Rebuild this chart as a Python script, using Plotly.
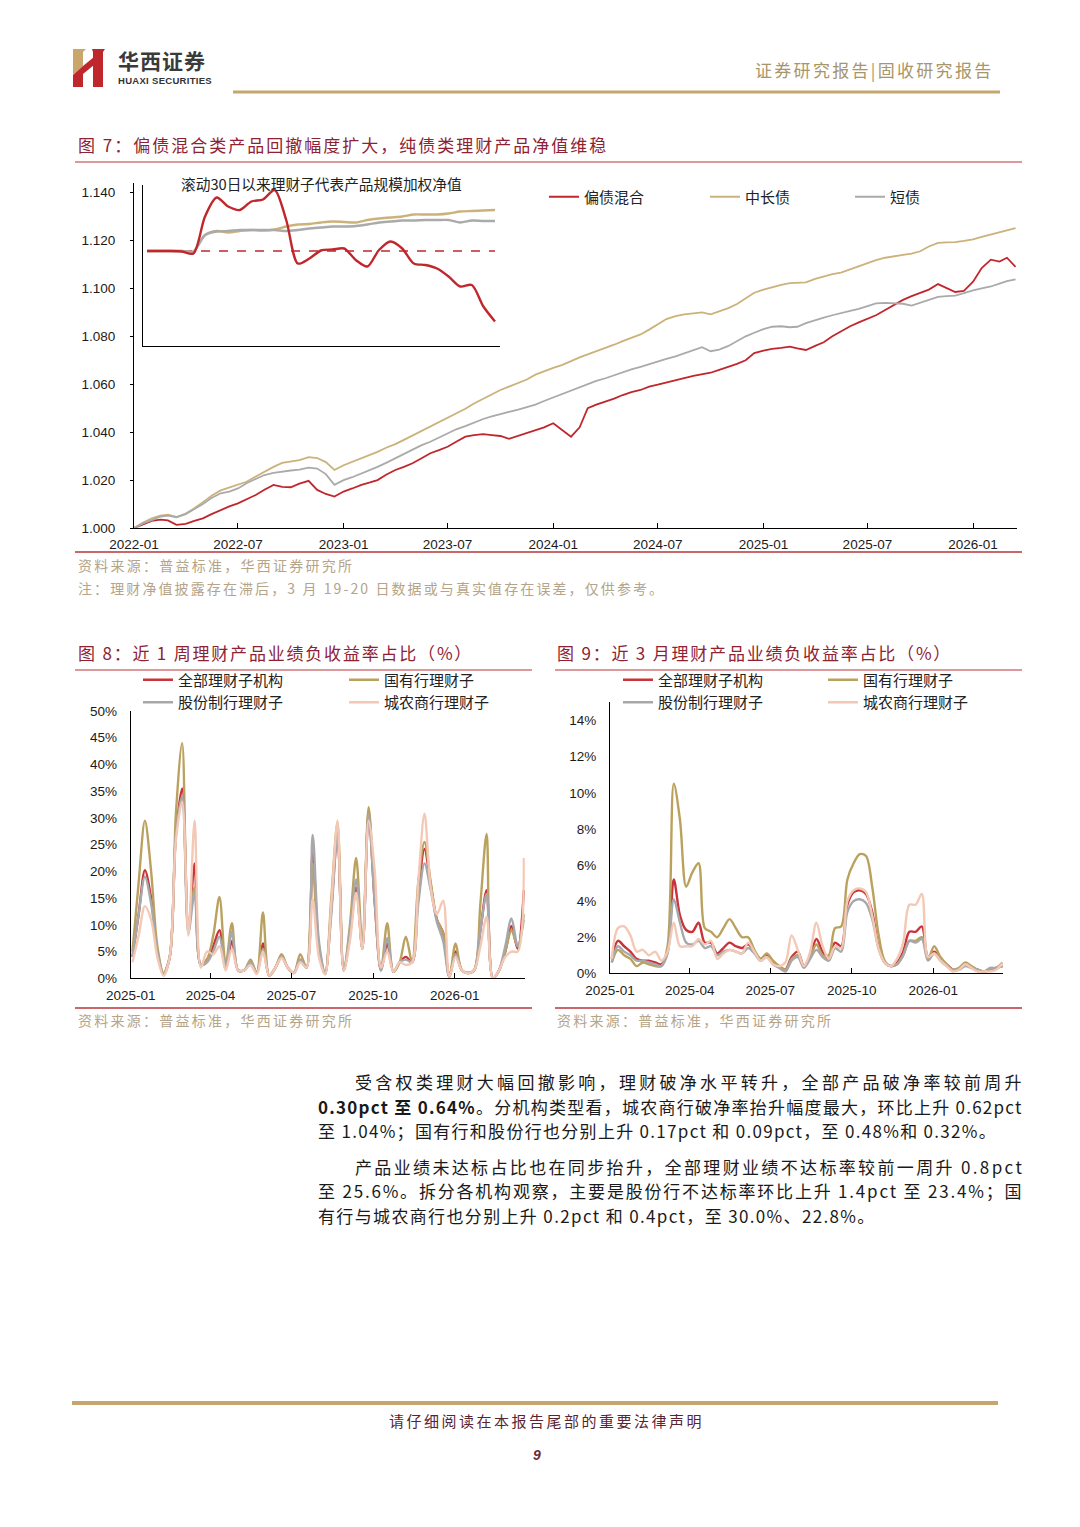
import plotly.graph_objects as go
import pandas as pd

W, H = 1080, 1527
CJK = "Noto Sans CJK SC"
LAT = "Liberation Sans, Arial, Noto Sans CJK SC"

# ---------------- Figure 7 : NAV series (semi-monthly readings) ----------------
nav_dates = []
for k in range(51):
    yy = 2022 + k // 12
    mm = k % 12 + 1
    nav_dates.append(f"{yy}-{mm:02d}-01")
    nav_dates.append(f"{yy}-{mm:02d}-16")

nav_mixed = [  # 偏债混合
    1.0000, 1.0015, 1.0030, 1.0035, 1.0032, 1.0013, 1.0017, 1.0030, 1.0040, 1.0058, 1.0075, 1.0090,
    1.0103, 1.0120, 1.0138, 1.0160, 1.0180, 1.0172, 1.0170, 1.0185, 1.0197, 1.0159, 1.0142, 1.0131,
    1.0152, 1.0165, 1.0180, 1.0190, 1.0200, 1.0222, 1.0242, 1.0255, 1.0270, 1.0290, 1.0312, 1.0325,
    1.0339, 1.0360, 1.0381, 1.0388, 1.0392, 1.0388, 1.0384, 1.0372, 1.0384, 1.0396, 1.0406, 1.0420,
    1.0437, 1.0410, 1.0381, 1.0420, 1.0500, 1.0515, 1.0527, 1.0540, 1.0555, 1.0567, 1.0576, 1.0590,
    1.0598, 1.0608, 1.0618, 1.0626, 1.0635, 1.0642, 1.0648, 1.0660, 1.0672, 1.0685, 1.0700, 1.0730,
    1.0740, 1.0748, 1.0752, 1.0757, 1.0750, 1.0743, 1.0760, 1.0775, 1.0800, 1.0822, 1.0842, 1.0858,
    1.0872, 1.0888, 1.0910, 1.0930, 1.0952, 1.0968, 1.0982, 1.0995, 1.1018, 1.1000, 1.0985, 1.0990,
    1.1028, 1.1085, 1.1120, 1.1112, 1.1128, 1.1090,
]
nav_long = [  # 中长债
    1.0000, 1.0022, 1.0040, 1.0052, 1.0056, 1.0046, 1.0060, 1.0082, 1.0108, 1.0135, 1.0157, 1.0168,
    1.0180, 1.0193, 1.0215, 1.0236, 1.0255, 1.0272, 1.0277, 1.0283, 1.0296, 1.0292, 1.0275, 1.0242,
    1.0262, 1.0276, 1.0292, 1.0305, 1.0318, 1.0335, 1.0350, 1.0368, 1.0386, 1.0405, 1.0423, 1.0442,
    1.0460, 1.0480, 1.0498, 1.0520, 1.0540, 1.0560, 1.0576, 1.0590, 1.0605, 1.0620, 1.0640, 1.0655,
    1.0668, 1.0680, 1.0698, 1.0712, 1.0725, 1.0738, 1.0750, 1.0765, 1.0780, 1.0795, 1.0808, 1.0828,
    1.0850, 1.0872, 1.0884, 1.0892, 1.0896, 1.0900, 1.0892, 1.0905, 1.0918, 1.0935, 1.0960, 1.0982,
    1.0995, 1.1005, 1.1015, 1.1022, 1.1022, 1.1025, 1.1040, 1.1050, 1.1060, 1.1066, 1.1080, 1.1095,
    1.1108, 1.1118, 1.1128, 1.1135, 1.1140, 1.1145, 1.1155, 1.1175, 1.1190, 1.1192, 1.1193, 1.1198,
    1.1205, 1.1215, 1.1225, 1.1235, 1.1245, 1.1252,
]
nav_short = [  # 短债
    1.0000, 1.0018, 1.0033, 1.0048, 1.0052, 1.0045, 1.0058, 1.0078, 1.0100, 1.0125, 1.0145, 1.0152,
    1.0165, 1.0187, 1.0204, 1.0221, 1.0230, 1.0236, 1.0240, 1.0244, 1.0252, 1.0248, 1.0225, 1.0180,
    1.0200, 1.0212, 1.0228, 1.0240, 1.0255, 1.0272, 1.0292, 1.0310, 1.0328, 1.0345, 1.0360, 1.0377,
    1.0395, 1.0412, 1.0425, 1.0440, 1.0455, 1.0466, 1.0474, 1.0485, 1.0494, 1.0503, 1.0515, 1.0530,
    1.0545, 1.0560, 1.0574, 1.0588, 1.0602, 1.0614, 1.0625, 1.0638, 1.0650, 1.0662, 1.0673, 1.0685,
    1.0695, 1.0706, 1.0716, 1.0728, 1.0742, 1.0755, 1.0738, 1.0745, 1.0760, 1.0780, 1.0800, 1.0815,
    1.0830, 1.0840, 1.0842, 1.0838, 1.0840, 1.0855, 1.0868, 1.0878, 1.0888, 1.0898, 1.0906, 1.0915,
    1.0928, 1.0938, 1.0940, 1.0938, 1.0936, 1.0928, 1.0940, 1.0955, 1.0965, 1.0968, 1.0970, 1.0980,
    1.0992, 1.1000, 1.1008, 1.1020, 1.1030, 1.1038,
]
nav_names = ["偏债混合", "中长债", "短债"]
nav_ticks = ["2022-01", "2022-07", "2023-01", "2023-07", "2024-01",
             "2024-07", "2025-01", "2025-07", "2026-01"]
nav_yticks = [1.000, 1.020, 1.040, 1.060, 1.080, 1.100, 1.120, 1.140]

# inset: rolling 30 days
inset_title = "滚动30日以来理财子代表产品规模加权净值"
inset_day = list(range(31))
inset_base = 1.0000
inset_mixed = [1.0000, 1.0000, 1.0000, 0.9999, 0.9995, 1.0069, 1.0107, 1.0089, 1.0082, 1.0099,
               1.0103, 1.0122, 1.0062, 0.9975, 0.9985, 1.0001, 1.0003, 1.0005, 0.9982, 0.9969,
               1.0002, 1.0019, 1.0005, 0.9975, 0.9972, 0.9965, 0.9949, 0.9929, 0.9932, 0.9889,
               0.9859]
inset_long = [1.0000, 1.0000, 1.0000, 1.0000, 0.9999, 1.0032, 1.0040, 1.0037, 1.0040, 1.0042,
              1.0041, 1.0043, 1.0049, 1.0053, 1.0054, 1.0057, 1.0059, 1.0058, 1.0057, 1.0062,
              1.0065, 1.0067, 1.0069, 1.0073, 1.0073, 1.0073, 1.0075, 1.0079, 1.0080, 1.0081,
              1.0082]
inset_short = [1.0000, 1.0000, 1.0000, 1.0000, 0.9999, 1.0032, 1.0039, 1.0040, 1.0042, 1.0042,
               1.0042, 1.0042, 1.0040, 1.0042, 1.0045, 1.0047, 1.0049, 1.0049, 1.0050, 1.0053,
               1.0057, 1.0059, 1.0061, 1.0061, 1.0062, 1.0062, 1.0062, 1.0057, 1.0061, 1.0060,
               1.0060]

# ---------------- Figure 8 / 9 : weekly shares (%) ----------------
week_start = "2025-01-03"
n_weeks = 64
org_names = ["全部理财子机构", "国有行理财子", "股份制行理财子", "城农商行理财子"]
q_ticks = ["2025-01", "2025-04", "2025-07", "2025-10", "2026-01"]
pct8_ticks = list(range(0, 51, 5))
pct9_ticks = list(range(0, 15, 2))

w1_all = [4, 12, 20.2, 15, 5, 0.8, 4, 27, 35.5, 9,
          21.5, 2.5, 3.5, 6, 9, 2, 7, 1.5, 1.5, 3,
          1, 6.5, 0.5, 2, 4, 2, 1, 3.5, 2, 23.5,
          6, 0.8, 13, 27, 1.5, 8, 17, 5.5, 31, 14,
          1.5, 6.5, 1.2, 3, 4, 3, 16, 24.2, 17.5, 11,
          8.5, 0.3, 5, 1.5, 1, 1.5, 9, 16.5, 0, 1.5,
          5, 9.8, 5.5, 16.5]
w1_state = [5, 18, 29.5, 20, 6, 1, 4, 31, 44, 10,
            17, 2.5, 3.5, 8, 15.2, 2.5, 10.3, 1.5, 1.5, 3.5,
            1, 12.3, 0.5, 2, 4.5, 2, 1, 4.5, 2, 21.5,
            5, 0.8, 15, 29, 1.5, 10, 22.5, 6, 32, 15,
            1.5, 10.3, 1.2, 3, 7.8, 3, 18, 25.5, 18, 11,
            8.5, 0.3, 6.5, 1.5, 1, 1.5, 14, 27, 0, 1.5,
            5, 9, 6, 12]
w1_joint = [4, 12, 19, 14, 5, 0.8, 4, 27, 34, 8.5,
            16, 2.5, 3, 5, 7.8, 1.8, 8.7, 1.5, 1.5, 3,
            0.9, 5.5, 0.5, 2, 4, 2, 1, 3.5, 2, 26.8,
            7, 0.8, 12, 27, 1.5, 9, 18.5, 5.5, 30.5, 14,
            1.5, 7.5, 1.2, 3, 3.5, 3, 14, 21.5, 16.5, 10.5,
            7, 0.3, 4.5, 1.5, 1, 1.5, 9, 15.8, 0, 1.5,
            6, 11.2, 6, 11]
w1_local = [3, 8, 13.5, 11, 4, 0.5, 4, 26, 33, 8,
            29.5, 2, 5, 4.5, 6, 1.5, 5.5, 1.5, 1.5, 2.5,
            0.8, 5, 0.5, 2, 3.8, 2, 1, 3, 2, 14.8,
            4, 0.8, 14, 29.5, 1.5, 7, 16, 5.5, 29.5, 20,
            2, 5, 1.2, 3, 2.5, 3, 18, 30.8, 17, 12,
            14.5, 0.3, 4, 1.5, 1, 1.5, 6, 11.5, 0, 1.5,
            4, 5, 5, 22.5]

m3_all = [0.8, 1.8, 1.5, 1.2, 0.8, 0.7, 0.7, 0.6, 0.5, 1.2,
          5.2, 3.2, 2.4, 2.3, 2.8, 1.7, 1.7, 1.1, 1.4, 1.7,
          1.5, 1.4, 1.6, 1.2, 0.8, 1.0, 0.6, 0.4, 0.2, 0.9,
          1.2, 0.4, 1.0, 1.9, 1.2, 0.8, 1.7, 1.5, 3.8, 4.5,
          4.6, 4.4, 3.4, 1.5, 0.6, 0.4, 0.6, 1.2, 2.3, 2.3,
          2.6, 0.9, 1.2, 0.8, 0.5, 0.2, 0.2, 0.5, 0.3, 0.2,
          0.1, 0.2, 0.3, 0.4]
m3_state = [0.6, 1.3, 1.0, 0.8, 0.4, 0.6, 0.5, 0.4, 0.4, 1.5,
            10.5, 8.5, 4.8, 5.6, 6.1, 2.5, 2.3, 2.0, 2.5, 3.0,
            2.5, 2.0, 2.0, 1.3, 0.8, 1.1, 0.7, 0.4, 0.2, 0.8,
            1.0, 0.4, 0.9, 1.6, 1.0, 1.0, 2.5, 2.6, 5.2, 6.1,
            6.6, 6.5, 4.8, 2.2, 0.7, 0.4, 0.5, 1.0, 1.8, 1.8,
            2.0, 0.8, 1.5, 0.9, 0.5, 0.2, 0.3, 0.6, 0.4, 0.2,
            0.1, 0.2, 0.3, 0.6]
m3_joint = [0.6, 1.5, 1.2, 1.0, 0.7, 0.7, 0.6, 0.5, 0.4, 1.1,
            4.1, 2.8, 1.7, 1.6, 1.8, 1.4, 1.5, 1.0, 1.2, 1.3,
            1.2, 1.1, 1.4, 1.1, 0.7, 0.9, 0.5, 0.3, 0.1, 0.7,
            0.9, 0.3, 0.8, 1.3, 0.9, 0.7, 1.4, 1.2, 3.4, 4.0,
            4.1, 3.9, 3.0, 1.4, 0.6, 0.4, 0.5, 1.0, 1.8, 1.7,
            1.9, 0.7, 1.1, 0.7, 0.4, 0.2, 0.2, 0.4, 0.3, 0.2,
            0.1, 0.3, 0.3, 0.4]
m3_local = [0.8, 2.5, 2.6, 2.1, 1.2, 1.3, 1.0, 1.2, 0.7, 1.2,
            2.8, 1.5, 1.5, 1.5, 1.9, 1.6, 1.8, 0.8, 1.1, 1.3,
            1.2, 1.1, 1.7, 1.2, 0.7, 0.9, 0.5, 0.4, 0.6, 2.1,
            1.3, 0.4, 1.2, 2.8, 1.5, 0.8, 1.5, 1.4, 4.0, 4.6,
            4.7, 4.5, 3.2, 1.4, 0.6, 0.4, 0.8, 1.7, 3.8, 3.8,
            4.4, 0.9, 1.1, 0.7, 0.4, 0.1, 0.2, 0.5, 0.3, 0.1,
            0.1, 0.1, 0.2, 0.55]

week_dates = [d.strftime("%Y-%m-%d") for d in pd.date_range(week_start, periods=n_weeks, freq="7D")]

# ---------------- helpers ----------------
def X(px):
    return px / W

def Y(py):
    return 1 - py / H

annotations = []
shapes = []

def txt(px, py, s, size, color, anchor="left", family=CJK, ls=None):
    if ls is not None:
        s = f'<span style="letter-spacing:{ls}px">{s}</span>'
    annotations.append(dict(x=X(px), y=Y(py), xref="paper", yref="paper", text=s,
                            showarrow=False, xanchor=anchor, yanchor="middle",
                            font=dict(size=size, color=color, family=family)))

def hline(x0, x1, py, color, width):
    shapes.append(dict(type="line", xref="paper", yref="paper", x0=X(x0), x1=X(x1),
                       y0=Y(py), y1=Y(py), line=dict(color=color, width=width)))

def poly(pts, color):
    path = "M " + " L ".join(f"{X(a):.5f},{Y(b):.5f}" for a, b in pts) + " Z"
    shapes.append(dict(type="path", xref="paper", yref="paper", path=path,
                       fillcolor=color, line=dict(width=0)))

RED = "#C0272D"
GOLD = "#CBB27A"
GRAY = "#AAAAAA"
C_ALL = "#C8343A"
C_STATE = "#BBA15E"
C_JOINT = "#A7A8AC"
C_LOCAL = "#F3C8B4"
TITLE_C = "#8E2233"
SRC_C = "#B5A488"
SEP_C = "#B8343A"

fig = go.Figure()

# main NAV chart
for vals, name, col, lg in zip([nav_mixed, nav_long, nav_short], nav_names, [RED, GOLD, GRAY],
                               ["legend", "legend2", "legend3"]):
    fig.add_trace(go.Scatter(x=nav_dates, y=vals, name=name, mode="lines",
                             line=dict(color=col, width=1.8), xaxis="x", yaxis="y", legend=lg))

# inset
fig.add_trace(go.Scatter(x=[inset_day[0], inset_day[-1]], y=[inset_base, inset_base], mode="lines",
                         line=dict(color=RED, width=1.5, dash="dash"), xaxis="x4", yaxis="y4",
                         showlegend=False))
for vals, col in zip([inset_long, inset_short, inset_mixed], [GOLD, GRAY, RED]):
    fig.add_trace(go.Scatter(x=inset_day, y=vals, mode="lines",
                             line=dict(color=col, width=2.4, shape="spline", smoothing=0.8),
                             xaxis="x4", yaxis="y4", showlegend=False))

# fig 8 and 9
series8 = [w1_all, w1_state, w1_joint, w1_local]
series9 = [m3_all, m3_state, m3_joint, m3_local]
cols = [C_ALL, C_STATE, C_JOINT, C_LOCAL]
leg8 = ["legend4", "legend5", "legend4", "legend5"]
leg9 = ["legend6", "legend7", "legend6", "legend7"]
for i in range(4):
    fig.add_trace(go.Scatter(x=week_dates, y=series8[i], name=org_names[i], mode="lines",
                             line=dict(color=cols[i], width=2.4, shape="spline", smoothing=0.9),
                             xaxis="x2", yaxis="y2", legend=leg8[i]))
for i in range(4):
    fig.add_trace(go.Scatter(x=week_dates, y=series9[i], name=org_names[i], mode="lines",
                             line=dict(color=cols[i], width=2.4, shape="spline", smoothing=0.9),
                             xaxis="x3", yaxis="y3", legend=leg9[i]))

tickfont = dict(size=13.5, color="#1a1a1a", family=LAT)

def q_vals(labels):
    return [l + "-01" for l in labels]

common = dict(showgrid=False, zeroline=False, automargin=False)
layout = dict(
    width=W, height=H, margin=dict(l=0, r=0, t=0, b=0, autoexpand=False),
    paper_bgcolor="white", plot_bgcolor="white",
    xaxis=dict(common, domain=[X(134), X(1017)], anchor="y", type="date",
               range=["2022-01-01", "2026-03-18 12:00"],
               tickvals=q_vals(nav_ticks), ticktext=nav_ticks, ticks="inside", ticklen=5,
               tickcolor="#000", showline=True, linecolor="#000", linewidth=1.2,
               tickfont=tickfont, ticklabelstandoff=4),
    yaxis=dict(common, domain=[Y(528), Y(183)], anchor="x", range=[1.0, 1.144],
               tickvals=nav_yticks, ticktext=[f"{v:.3f}" for v in nav_yticks],
               ticks="outside", ticklen=3,
               tickcolor="#000", showline=True, linecolor="#000", linewidth=1.2,
               tickfont=tickfont, ticklabelstandoff=12),
    xaxis4=dict(common, domain=[X(143), X(500)], anchor="y4", range=[-0.345, 30.43],
                showline=True, linecolor="#000", linewidth=1.3, showticklabels=False, ticks=""),
    yaxis4=dict(common, domain=[Y(346), Y(185)], anchor="x4", range=[0.981, 1.0132],
                showline=True, linecolor="#000", linewidth=1.3, showticklabels=False, ticks=""),
    xaxis2=dict(common, domain=[X(130.7), X(524.8)], anchor="y2", type="date",
                range=["2025-01-01", "2026-03-21"],
                tickvals=q_vals(q_ticks), ticktext=q_ticks, ticks="inside", ticklen=5,
                tickcolor="#000", showline=True, linecolor="#000", linewidth=1,
                tickfont=tickfont, ticklabelstandoff=4),
    yaxis2=dict(common, domain=[Y(978.3), Y(711)], anchor="x2", range=[0, 50],
                tickvals=pct8_ticks, ticktext=[f"{v}%" for v in pct8_ticks], ticks="",
                showline=True, linecolor="#000", linewidth=1,
                tickfont=tickfont, ticklabelstandoff=10),
    xaxis3=dict(common, domain=[X(610), X(1003.3)], anchor="y3", type="date",
                range=["2025-01-01", "2026-03-21"],
                tickvals=q_vals(q_ticks), ticktext=q_ticks, ticks="inside", ticklen=5,
                tickcolor="#000", showline=True, linecolor="#000", linewidth=1,
                tickfont=tickfont, ticklabelstandoff=4),
    yaxis3=dict(common, domain=[Y(973.3), Y(701.7)], anchor="x3", range=[0, 15.05],
                tickvals=pct9_ticks, ticktext=[f"{v}%" for v in pct9_ticks], ticks="",
                showline=True, linecolor="#000", linewidth=1,
                tickfont=tickfont, ticklabelstandoff=10),
)

legbase = dict(bgcolor="rgba(0,0,0,0)", font=dict(size=15, family=CJK, color="#222"),
               xanchor="left", yanchor="middle", orientation="v", itemwidth=30,
               tracegroupgap=0, borderwidth=0)
layout["legend"] = dict(legbase, x=X(544), y=Y(197))
layout["legend2"] = dict(legbase, x=X(705), y=Y(197))
layout["legend3"] = dict(legbase, x=X(850), y=Y(197))
layout["legend4"] = dict(legbase, x=X(138), y=Y(691))
layout["legend5"] = dict(legbase, x=X(344), y=Y(691))
layout["legend6"] = dict(legbase, x=X(618), y=Y(691))
layout["legend7"] = dict(legbase, x=X(823), y=Y(691))

# ---------------- page decorations ----------------
# logo
poly([(73, 49), (86, 49), (83, 52), (83, 66), (73, 75)], "#C9A76B")
poly([(73, 75), (83, 66), (83, 87), (73, 87)], "#C0272D")
poly([(83, 66), (94, 57), (94, 65), (83, 74)], "#C0272D")
poly([(92, 49), (105, 49), (103, 52), (103, 87), (93, 87), (93, 52)], "#C0272D")
txt(116, 60, "<b>华西证券</b>", 21, "#3a3a3a", ls=1)
txt(116, 80, "<b>HUAXI SECURITIES</b>", 9.5, "#333", family=LAT, ls=0.3)
txt(996, 70, "证券研究报告|固收研究报告", 17, "#A8956A", anchor="right", ls=2.3)
hline(233, 1000, 92, "#C4A66E", 3)

# figure 7 frame
txt(76, 145, "图 7：偏债混合类产品回撤幅度扩大，纯债类理财产品净值维稳", 17, TITLE_C, ls=2.0)
hline(75, 1022, 162, SEP_C, 1.2)
hline(75, 1022, 552, SEP_C, 1.5)
txt(76, 565, "资料来源：普益标准，华西证券研究所", 14, SRC_C, ls=2.25)
txt(76, 588, "注：理财净值披露存在滞后，3 月 19-20 日数据或与真实值存在误差，仅供参考。", 14, SRC_C, ls=2.1)
txt(321, 184, inset_title, 14.7, "#222", anchor="center")

# figure 8 / 9 frames
txt(76, 652, "图 8：近 1 周理财产品业绩负收益率占比（%）", 17, TITLE_C, ls=1.8)
txt(555, 652, "图 9：近 3 月理财产品业绩负收益率占比（%）", 17, TITLE_C, ls=1.8)
hline(75, 532, 670, SEP_C, 1.2)
hline(555, 1022, 670, SEP_C, 1.2)
hline(75, 532, 1008, SEP_C, 1.5)
hline(555, 1022, 1008, SEP_C, 1.5)
txt(76, 1020, "资料来源：普益标准，华西证券研究所", 14, SRC_C, ls=2.25)
txt(555, 1020, "资料来源：普益标准，华西证券研究所", 14, SRC_C, ls=2.25)

# body text
BODY = "#1a1a1a"
txt(353, 1081, "受含权类理财大幅回撤影响，理财破净水平转升，全部产品破净率较前周升", 17, BODY, ls=3.3)
txt(316, 1106, "<b>0.30pct 至 0.64%</b>。分机构类型看，城农商行破净率抬升幅度最大，环比上升 0.62pct", 17, BODY, ls=1.25)
txt(316, 1130, "至 1.04%；国有行和股份行也分别上升 0.17pct 和 0.09pct，至 0.48%和 0.32%。", 17, BODY, ls=1.3)
txt(353, 1166, "产品业绩未达标占比也在同步抬升，全部理财业绩不达标率较前一周升 0.8pct", 17, BODY, ls=2.35)
txt(316, 1190, "至 25.6%。拆分各机构观察，主要是股份行不达标率环比上升 1.4pct 至 23.4%；国", 17, BODY, ls=1.8)
txt(316, 1215, "有行与城农商行也分别上升 0.2pct 和 0.4pct，至 30.0%、22.8%。", 17, BODY, ls=1.35)

# footer
hline(72, 998, 1403, "#C4A66E", 4)
txt(546, 1420, "请仔细阅读在本报告尾部的重要法律声明", 15, "#5A2533", anchor="center", ls=2.5)
txt(537, 1455, "<b><i>9</i></b>", 14, "#6B2A35", anchor="center", family=LAT)

layout["annotations"] = annotations
layout["shapes"] = shapes
fig.update_layout(**layout)

fig.write_html("out.html", config={"displayModeBar": False},
               post_script="document.body.style.margin='0';document.body.style.overflow='hidden';")
